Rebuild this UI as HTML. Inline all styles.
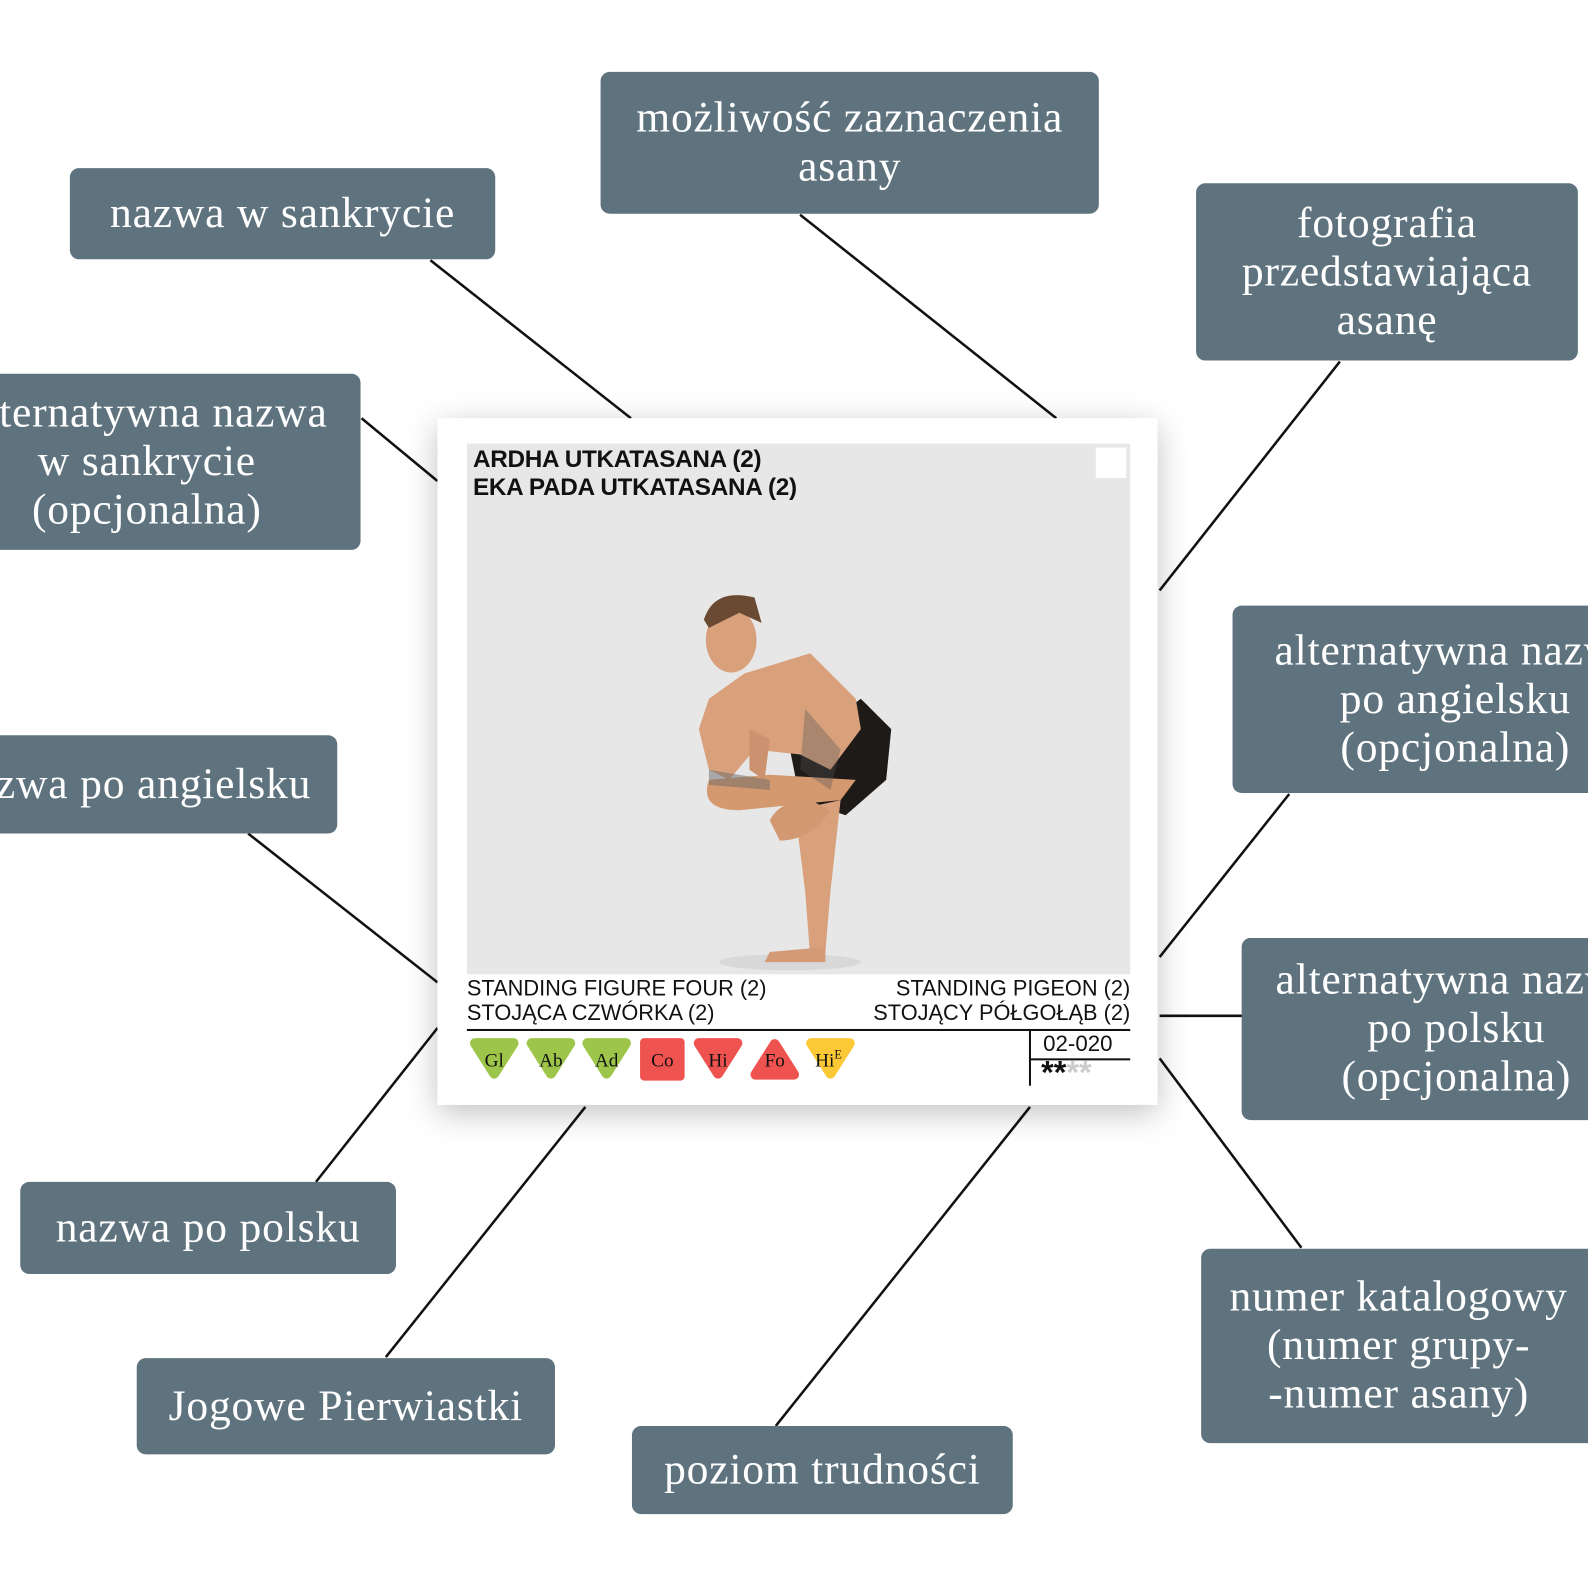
<!DOCTYPE html>
<html style="overflow:hidden"><head><meta charset="utf-8"><style>
html,body{margin:0;width:1588px;height:1588px;overflow:hidden}
body{background:#fff;font-family:"Liberation Serif",serif;position:relative}
#clip{position:absolute;left:0;top:0;width:1588px;height:1588px;overflow:hidden}
#w{position:absolute;left:0;top:0;width:1568px;height:1568px;transform:scale(1.01276);transform-origin:0 0}
.b{position:absolute;background:#5f737e;border-radius:9px;color:#fff;font-size:43px;letter-spacing:0.8px;line-height:48px;display:flex;align-items:center;justify-content:center;text-align:center;white-space:nowrap;overflow:hidden}
.card{position:absolute;left:432px;top:413px;width:711px;height:678px;background:#fff;box-shadow:0 8px 30px rgba(0,0,0,0.25)}
.t{position:absolute;font-family:"Liberation Sans",sans-serif;color:#111;white-space:nowrap}
</style></head><body><div id="clip"><div id="w">
<svg style="position:absolute;left:0;top:0" width="1568" height="1568">
<g stroke="#111" stroke-width="2.5">
<line x1="425" y1="257" x2="623" y2="413"/>
<line x1="790" y1="212" x2="1043" y2="413"/>
<line x1="1323" y1="357" x2="1145" y2="583"/>
<line x1="357" y1="413" x2="432" y2="475"/>
<line x1="245" y1="823" x2="432" y2="970"/>
<line x1="1273" y1="784" x2="1145" y2="945"/>
<line x1="1145" y1="1003" x2="1227" y2="1003"/>
<line x1="1145" y1="1045" x2="1285" y2="1232"/>
<line x1="432" y1="1015" x2="312" y2="1167"/>
<line x1="578" y1="1093" x2="381" y2="1340"/>
<line x1="1017" y1="1093" x2="766" y2="1408"/>
</g></svg>
<div class="card"></div>
<div style="position:absolute;left:461px;top:438px;width:655px;height:524px;background:#e7e7e7"></div>
<div style="position:absolute;left:1082px;top:442px;width:30px;height:30px;background:#fff"></div>
<svg style="position:absolute;left:0;top:0" width="1568" height="1568">
<ellipse cx="780" cy="950" rx="70" ry="8" fill="#d8d8d8"/>
<path d="M780 740 L850 690 L880 720 L875 770 L835 805 L790 790Z" fill="#1d1a18"/>
<path d="M700 690 L735 665 L800 645 L845 690 L850 720 L820 760 L790 745 L745 740 L720 770 L700 760 L690 720Z" fill="#d9a07c"/>
<path d="M700 770 Q690 800 730 800 L830 790 L845 770 L760 765Z" fill="#d5996f"/>
<path d="M785 800 L830 790 L820 880 L815 940 L800 945 L795 880Z" fill="#d9a07c"/>
<path d="M760 810 Q770 790 800 790 L820 800 Q800 830 770 830Z" fill="#d19872"/>
<path d="M760 940 L815 935 L815 950 L755 950Z" fill="#d39a76"/>
<path d="M740 720 L760 730 L755 770 L740 760Z" fill="#cc9270"/>
<ellipse cx="722" cy="632" rx="25" ry="32" fill="#d9a07c"/>
<path d="M695 612 Q705 580 745 590 L752 615 L730 605 L700 620Z" fill="#6b4a33"/>
<path d="M700 760 L760 770 L760 780 L700 775Z" fill="#6a6a6a" opacity=".5"/>
<path d="M795 700 L830 740 L820 780 L790 760Z" fill="#555" opacity=".35"/>
</svg>
<div class="t" style="left:467px;top:440px;font-size:24px;font-weight:bold;line-height:28px;letter-spacing:-0.3px">ARDHA UTKATASANA (2)<br>EKA PADA UTKATASANA (2)</div>
<div class="t" style="left:461px;top:964px;font-size:21.5px;line-height:24px">STANDING FIGURE FOUR (2)<br>STOJĄCA CZWÓRKA (2)</div>
<div class="t" style="right:452px;top:964px;font-size:21.5px;line-height:24px;text-align:right">STANDING PIGEON (2)<br>STOJĄCY PÓŁGOŁĄB (2)</div>
<div style="position:absolute;left:461px;top:1016px;width:655px;height:2px;background:#111"></div>
<div style="position:absolute;left:1016px;top:1016px;width:2px;height:56px;background:#111"></div>
<div style="position:absolute;left:1016px;top:1045px;width:100px;height:2px;background:#111"></div>
<div class="t" style="left:1030px;top:1018px;font-size:22px">02-020</div>
<div class="t" style="left:1028px;top:1043px;font-size:32px;font-weight:bold;line-height:32px">**<span style="color:#ccc">**</span></div>
<svg style="position:absolute;left:0;top:0" width="1568" height="1568" font-family="Liberation Serif" font-size="19">
<g stroke-linejoin="round" stroke-width="10">
<path d="M469 1030 L507 1030 L488 1060Z" fill="#9dc54a" stroke="#9dc54a"/>
<path d="M525 1030 L563 1030 L544 1060Z" fill="#9dc54a" stroke="#9dc54a"/>
<path d="M580 1030 L618 1030 L599 1060Z" fill="#9dc54a" stroke="#9dc54a"/>
<rect x="632" y="1025" width="44" height="42" rx="4" fill="#ef5350" stroke="none"/>
<path d="M690 1030 L728 1030 L709 1060Z" fill="#ef5350" stroke="#ef5350"/>
<path d="M746 1061 L784 1061 L765 1031Z" fill="#ef5350" stroke="#ef5350"/>
<path d="M801 1030 L839 1030 L820 1060Z" fill="#fbc936" stroke="#fbc936"/>
</g>
<g fill="#111" text-anchor="middle">
<text x="488" y="1053">Gl</text><text x="544" y="1053">Ab</text><text x="599" y="1053">Ad</text>
<text x="654" y="1053">Co</text><text x="709" y="1053">Hi</text><text x="765" y="1053">Fo</text>
<text x="818" y="1053">Hi<tspan font-size="12" dy="-8">E</tspan></text></g>
</svg>
<div class="b" style="left:69px;top:166px;width:420px;height:90px">nazwa w sankrycie</div>
<div class="b" style="left:593px;top:71px;width:492px;height:140px">możliwość zaznaczenia<br>asany</div>
<div class="b" style="left:1181px;top:181px;width:377px;height:175px">fotografia<br>przedstawiająca<br>asanę</div>
<div class="b" style="left:-66px;top:369px;width:422px;height:174px">alternatywna nazwa<br>w sankrycie<br>(opcjonalna)</div>
<div class="b" style="left:-72px;top:726px;width:405px;height:97px">nazwa po angielsku</div>
<div class="b" style="left:1217px;top:598px;width:440px;height:185px">alternatywna nazwa<br>po angielsku<br>(opcjonalna)</div>
<div class="b" style="left:1226px;top:926px;width:424px;height:180px">alternatywna nazwa<br>po polsku<br>(opcjonalna)</div>
<div class="b" style="left:20px;top:1167px;width:371px;height:91px">nazwa po polsku</div>
<div class="b" style="left:135px;top:1341px;width:413px;height:95px">Jogowe Pierwiastki</div>
<div class="b" style="left:624px;top:1408px;width:376px;height:87px">poziom trudności</div>
<div class="b" style="left:1186px;top:1233px;width:390px;height:192px">numer katalogowy<br>(numer grupy-<br>-numer asany)</div>
</div></div></body></html>
